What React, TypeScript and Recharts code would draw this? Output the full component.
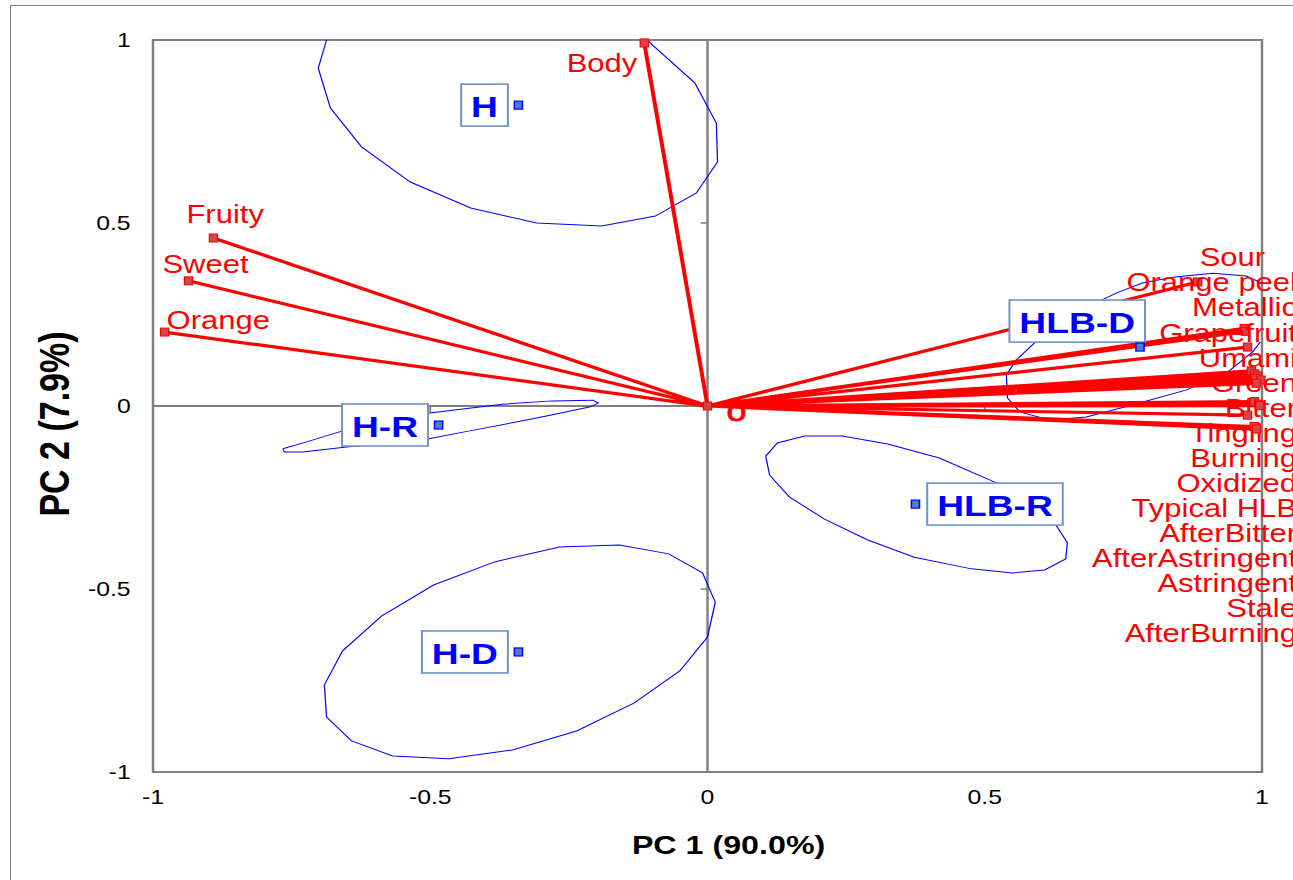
import React from 'react';
import { ScatterChart, Scatter, XAxis, YAxis, ReferenceArea, ReferenceLine } from 'recharts';

// the source figure is stretched horizontally, so the chart is drawn narrow and scaled in x
const STRETCH = 1.24;
const CHART_W = 1043;
const CHART_H = 880;
const PLOT_LEFT = 153 / STRETCH;
const PLOT_RIGHT = 1262 / STRETCH;
const PLOT_TOP = 40;
const PLOT_BOTTOM = 772;
const Y_AXIS_W = 110;
const X_AXIS_H = 85;
const FONT = '"Liberation Sans", Arial, Helvetica, sans-serif';

const axisTicks = [-1, -0.5, 0, 0.5, 1];

// variables (loadings on PC1 / PC2)
const varNames = [
  'Body', 'Fruity', 'Sweet', 'Orange',
  'Sour', 'Orange peel', 'Metallic', 'Grapefruit', 'Umami', 'Green', 'Bitter', 'Tingling',
  'Burning', 'Oxidized', 'Typical HLB', 'AfterBitter', 'AfterAstringent', 'Astringent', 'Stale', 'AfterBurning',
];
const varPC1 = [
  -0.114, -0.891, -0.936, -0.979,
  0.884, 0.968, 0.970, 0.974, 0.981, 0.987, 0.992, 0.988,
  0.998, 0.990, 0.986, 0.994, 0.996, 0.974, 0.986, 0.990,
];
const varPC2 = [
  0.992, 0.459, 0.342, 0.202,
  0.339, 0.212, 0.204, 0.161, 0.096, 0.088, 0.082, 0.076,
  0.071, 0.062, 0.012, 0.005, 0.001, -0.025, -0.056, -0.063,
];

// observations (products)
const obsNames = ['H', 'H-R', 'H-D', 'HLB-D', 'HLB-R'];
const obsPC1 = [-0.341, -0.485, -0.341, 0.780, 0.375];
const obsPC2 = [0.822, -0.052, -0.672, 0.161, -0.268];

// confidence ellipses, outline points [PC1, PC2]
const ellipseH = [
  [-0.108, 1.0], [-0.099, 0.986], [-0.023, 0.883], [0.016, 0.773], [0.018, 0.667], [-0.02, 0.582],
  [-0.094, 0.519], [-0.191, 0.492], [-0.308, 0.5], [-0.427, 0.541], [-0.536, 0.612], [-0.624, 0.708],
  [-0.68, 0.814], [-0.702, 0.923], [-0.687, 1.0],
];
const ellipseHR = [
  [-0.766, -0.117], [-0.723, -0.098], [-0.658, -0.068], [-0.583, -0.041], [-0.501, -0.019], [-0.37, 0.005],
  [-0.28, 0.014], [-0.207, 0.016], [-0.197, 0.008], [-0.213, -0.003], [-0.308, -0.033], [-0.429, -0.068],
  [-0.505, -0.09], [-0.651, -0.112], [-0.73, -0.126], [-0.763, -0.126], [-0.766, -0.117],
];
const ellipseHD = [
  [-0.691, -0.762], [-0.687, -0.85], [-0.642, -0.915], [-0.568, -0.956], [-0.467, -0.964], [-0.352, -0.94],
  [-0.236, -0.888], [-0.132, -0.811], [-0.05, -0.724], [0.0, -0.631], [0.014, -0.536], [-0.009, -0.456],
  [-0.07, -0.404], [-0.159, -0.38], [-0.267, -0.385], [-0.384, -0.426], [-0.494, -0.489], [-0.588, -0.574],
  [-0.658, -0.669], [-0.691, -0.762],
];
const ellipseHLBD = [
  [0.999, 0.336], [0.972, 0.355], [0.911, 0.363], [0.839, 0.352], [0.784, 0.336], [0.738, 0.309],
  [0.662, 0.254], [0.595, 0.18], [0.557, 0.126], [0.539, 0.085], [0.541, 0.022], [0.563, -0.016],
  [0.617, -0.038], [0.683, -0.03], [0.766, 0.003], [0.864, 0.044], [0.936, 0.09], [0.983, 0.148],
  [0.997, 0.175],
];
const ellipseHLBR = [
  [0.105, -0.137], [0.126, -0.101], [0.175, -0.082], [0.243, -0.082], [0.325, -0.104], [0.418, -0.142],
  [0.518, -0.208], [0.599, -0.257], [0.631, -0.331], [0.649, -0.374], [0.646, -0.418], [0.608, -0.448],
  [0.55, -0.456], [0.476, -0.445], [0.373, -0.413], [0.289, -0.366], [0.211, -0.309], [0.148, -0.249],
  [0.112, -0.189], [0.105, -0.137],
];
const ellipses = [ellipseH, ellipseHR, ellipseHD, ellipseHLBD, ellipseHLBR];

const variables = varNames.map((name, i) => ({ name, x: varPC1[i], y: varPC2[i] }));
const observations = obsNames.map((name, i) => ({ name, x: obsPC1[i], y: obsPC2[i] }));
const vectorPath = variables.flatMap((v) => [{ x: 0, y: 0 }, { x: v.x, y: v.y }]);
const origin = [{ x: 0, y: 0 }];

// label placement
const labelLayout: Record<string, { dx: number; dy: number; anchor: 'start' | 'end' }> = {
  Body: { dx: -5.6, dy: 21, anchor: 'end' },
  Fruity: { dx: -21.8, dy: -23, anchor: 'start' },
  Sweet: { dx: -21, dy: -16, anchor: 'start' },
  Orange: { dx: 1.6, dy: -11, anchor: 'start' },
  Sour: { dx: 1.6, dy: -24, anchor: 'start' },
};
const yPx = (v: number) => PLOT_TOP + ((1 - v) / 2) * (PLOT_BOTTOM - PLOT_TOP);
const columnNames = variables
  .filter((v) => v.x > 0 && !labelLayout[v.name])
  .sort((a, b) => b.y - a.y)
  .map((v) => v.name);
const sour = variables.find((v) => v.name === 'Sour')!;
const COLUMN_TOP = yPx(sour.y) - 24;
const COLUMN_STEP = 25.07;
const COLUMN_X = 1297 / STRETCH;

const boxSide: Record<string, 'left' | 'right' | 'above'> = {
  H: 'left', 'H-R': 'left', 'H-D': 'left', 'HLB-D': 'above', 'HLB-R': 'right',
};
const boldW: Record<string, number> = { H: 0.722, L: 0.611, B: 0.722, '-': 0.333, D: 0.722, R: 0.722 };
const boxTextWidth = (s: string) => s.split('').reduce((a, c) => a + (boldW[c] ?? 0.6), 0) * 30;

const Empty = () => <g />;

const RedSquare = ({ cx, cy }: { cx: number; cy: number }) => (
  <rect x={cx - 3.3} y={cy - 4} width={6.6} height={8} fill="#d24848" stroke="#ff0000" strokeWidth={1} />
);

const VariablePoint = (props: any) => {
  const { cx, cy, payload } = props;
  const lay = labelLayout[payload.name];
  let tx: number;
  let ty: number;
  let anchor: 'start' | 'end';
  if (lay) {
    tx = cx + lay.dx;
    ty = cy + lay.dy;
    anchor = lay.anchor;
  } else {
    const slot = columnNames.indexOf(payload.name) + 1;
    tx = COLUMN_X;
    ty = COLUMN_TOP + slot * COLUMN_STEP;
    anchor = 'end';
  }
  return (
    <g>
      <RedSquare cx={cx} cy={cy} />
      <text x={tx} y={ty} textAnchor={anchor} dominantBaseline="central" fontFamily={FONT} fontSize={25} fill="#ff0000">
        {payload.name}
      </text>
    </g>
  );
};

const OriginPoint = (props: any) => {
  const { cx, cy } = props;
  return (
    <g>
      <RedSquare cx={cx} cy={cy} />
      <text x={cx + 23.4} y={cy + 5} textAnchor="middle" dominantBaseline="central" fontFamily={FONT} fontSize={29}
        fill="#ff0000" stroke="#ff0000" strokeWidth={0.8}>
        o
      </text>
    </g>
  );
};

const ObservationPoint = (props: any) => {
  const { cx, cy, payload } = props;
  const w = boxTextWidth(payload.name) + 16;
  const h = 42;
  const side = boxSide[payload.name];
  let bx = cx - 8.5 - w;
  let by = cy - h / 2;
  if (side === 'right') bx = cx + 9.5;
  if (side === 'above') {
    bx = cx + 4 - w;
    by = cy - 5 - h;
  }
  return (
    <g>
      <rect x={bx} y={by} width={w} height={h} fill="#ffffff" stroke="#6f93c6" strokeWidth={1.6} />
      <text x={bx + w / 2} y={by + h / 2 + 1} textAnchor="middle" dominantBaseline="central" fontFamily={FONT}
        fontSize={30} fontWeight="bold" fill="#0000ff">
        {payload.name}
      </text>
      <rect x={cx - 3.3} y={cy - 4} width={6.6} height={8} fill="#4f7fc0" stroke="#0000ff" strokeWidth={1.2} />
    </g>
  );
};

const tickStyle = { fontFamily: FONT, fontSize: 20, fill: '#000000' };
const axisGrey = '#808080';
const tx = 0.0126;
const ty = 0.0164;

export default function App() {
  return (
    <div style={{ position: 'fixed', inset: 0, overflow: 'hidden', background: '#ffffff', fontFamily: FONT }}>
      <div style={{ position: 'absolute', left: 10, top: 5, width: 2000, height: 2000, borderLeft: `1.5px solid ${axisGrey}`, borderTop: `1.5px solid ${axisGrey}` }} />
      <div style={{ position: 'absolute', left: 0, top: 0, transform: `scaleX(${STRETCH})`, transformOrigin: '0 0' }}>
        <ScatterChart
          width={CHART_W}
          height={CHART_H}
          margin={{ top: PLOT_TOP, right: CHART_W - PLOT_RIGHT, bottom: CHART_H - PLOT_BOTTOM - X_AXIS_H, left: PLOT_LEFT - Y_AXIS_W }}
        >
          <XAxis
            type="number"
            dataKey="x"
            domain={[-1, 1]}
            ticks={axisTicks}
            axisLine={false}
            tickLine={false}
            tickSize={0}
            tickMargin={18}
            height={X_AXIS_H}
            tick={tickStyle}
            label={{
              content: () => (
                <text x={(PLOT_LEFT + PLOT_RIGHT) / 2 + 17} y={845} textAnchor="middle" dominantBaseline="central"
                  fontFamily={FONT} fontSize={26} fontWeight="bold" fill="#000000">
                  PC 1 (90.0%)
                </text>
              ),
            }}
          />
          <YAxis
            type="number"
            dataKey="y"
            domain={[-1, 1]}
            ticks={axisTicks}
            axisLine={false}
            tickLine={false}
            tickSize={0}
            tickMargin={18}
            width={Y_AXIS_W}
            tick={tickStyle}
            label={{
              content: () => (
                <text x={44} y={424} transform="rotate(-90, 44, 424)" textAnchor="middle" dominantBaseline="central"
                  fontFamily={FONT} fontSize={34} fontWeight="bold" fill="#000000">
                  PC 2 (7.9%)
                </text>
              ),
            }}
          />
          <ReferenceArea x1={-1} x2={1} y1={-1} y2={1} fill="none" stroke={axisGrey} strokeWidth={2} />
          <ReferenceLine x={0} stroke={axisGrey} strokeWidth={2} />
          <ReferenceLine y={0} stroke={axisGrey} strokeWidth={2} />
          {axisTicks.filter((t) => t !== 0).map((t) => (
            <ReferenceLine key={`yt${t}`} segment={[{ x: 0, y: t }, { x: -tx, y: t }]} stroke={axisGrey} strokeWidth={1.5} />
          ))}
          {axisTicks.filter((t) => t !== 0).map((t) => (
            <ReferenceLine key={`xt${t}`} segment={[{ x: t, y: 0 }, { x: t, y: -ty }]} stroke={axisGrey} strokeWidth={1.5} />
          ))}
          {ellipses.map((e, i) => (
            <Scatter
              key={`ell${i}`}
              data={e.map(([x, y]) => ({ x, y }))}
              line={{ stroke: '#0000ff', strokeWidth: 1 }}
              shape={Empty}
              isAnimationActive={false}
            />
          ))}
          <Scatter data={vectorPath} line={{ stroke: '#ff0000', strokeWidth: 3.2 }} shape={Empty} isAnimationActive={false} />
          <Scatter data={variables} shape={VariablePoint} isAnimationActive={false} />
          <Scatter data={origin} shape={OriginPoint} isAnimationActive={false} />
          <Scatter data={observations} shape={ObservationPoint} isAnimationActive={false} />
        </ScatterChart>
      </div>
    </div>
  );
}
